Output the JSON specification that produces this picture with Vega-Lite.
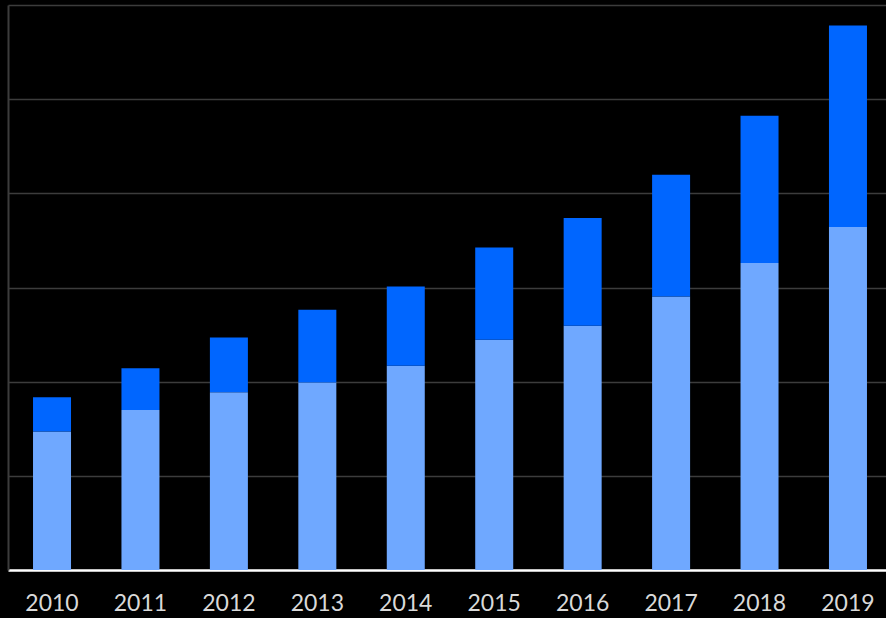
{
  "$schema": "https://vega.github.io/schema/vega-lite/v6.json",
  "width": 878,
  "height": 565,
  "autosize": {"type": "none"},
  "padding": {"left": 8, "top": 5, "right": 0, "bottom": 48},
  "background": "#000000",
  "config": {"view": {"stroke": null}},
  "data": {
    "values": [
      {"year": "2010", "series": "A", "ord": 1, "value": 1.470},
      {"year": "2010", "series": "B", "ord": 2, "value": 0.365},
      {"year": "2011", "series": "A", "ord": 1, "value": 1.700},
      {"year": "2011", "series": "B", "ord": 2, "value": 0.443},
      {"year": "2012", "series": "A", "ord": 1, "value": 1.888},
      {"year": "2012", "series": "B", "ord": 2, "value": 0.581},
      {"year": "2013", "series": "A", "ord": 1, "value": 1.990},
      {"year": "2013", "series": "B", "ord": 2, "value": 0.773},
      {"year": "2014", "series": "A", "ord": 1, "value": 2.168},
      {"year": "2014", "series": "B", "ord": 2, "value": 0.843},
      {"year": "2015", "series": "A", "ord": 1, "value": 2.444},
      {"year": "2015", "series": "B", "ord": 2, "value": 0.981},
      {"year": "2016", "series": "A", "ord": 1, "value": 2.593},
      {"year": "2016", "series": "B", "ord": 2, "value": 1.144},
      {"year": "2017", "series": "A", "ord": 1, "value": 2.904},
      {"year": "2017", "series": "B", "ord": 2, "value": 1.294},
      {"year": "2018", "series": "A", "ord": 1, "value": 3.259},
      {"year": "2018", "series": "B", "ord": 2, "value": 1.566},
      {"year": "2019", "series": "A", "ord": 1, "value": 3.642},
      {"year": "2019", "series": "B", "ord": 2, "value": 2.139}
    ]
  },
  "mark": {"type": "bar"},
  "encoding": {
    "x": {
      "field": "year",
      "type": "ordinal",
      "scale": {"paddingInner": 0.5703, "paddingOuter": 0.249, "align": 0.568},
      "axis": {
        "title": null,
        "labelAngle": 0,
        "labelColor": "#d9d9d9",
        "labelFont": "Lato",
        "labelFontSize": 23,
        "labelPadding": 22,
        "ticks": false,
        "domainColor": "#ffffff",
        "domainWidth": 2.5
      }
    },
    "y": {
      "field": "value",
      "type": "quantitative",
      "stack": "zero",
      "scale": {"domain": [0, 6], "nice": false},
      "axis": {
        "title": null,
        "labels": false,
        "ticks": false,
        "values": [0, 1, 2, 3, 4, 5, 6],
        "grid": true,
        "gridColor": "#3c3c3c",
        "gridWidth": 1.6,
        "domainColor": "#3c3c3c",
        "domainWidth": 2
      }
    },
    "color": {
      "field": "series",
      "type": "nominal",
      "scale": {"domain": ["A", "B"], "range": ["#6FA8FF", "#0066FF"]},
      "legend": null
    },
    "order": {"field": "ord", "type": "quantitative"}
  }
}
